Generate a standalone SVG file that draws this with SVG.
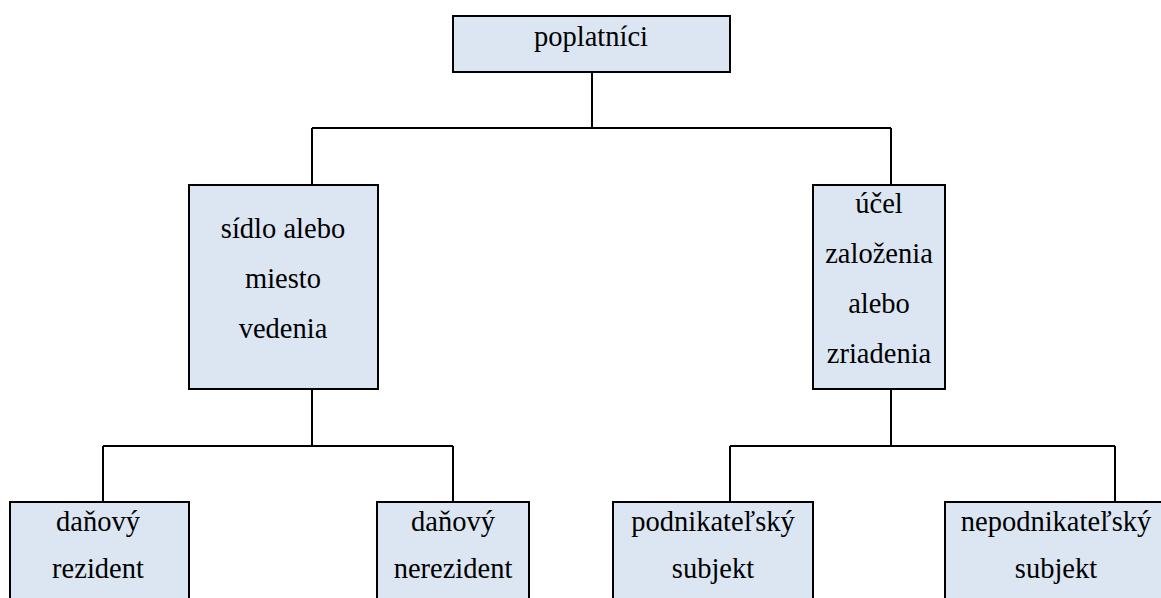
<svg xmlns="http://www.w3.org/2000/svg" width="1161" height="598" viewBox="0 0 1161 598">
<style>
.box{fill:#DCE6F2;stroke:#000;stroke-width:2}
.t{font-size:28.5px;fill:#000;text-anchor:middle}
.c{fill:none;stroke:#000;stroke-width:2}
</style>
<rect width="1161" height="598" fill="#fff"/>
<g id="connectors">
<path class="c" d="M592 72V128M312 128H891M312 128V185M891 128V185"/>
<path class="c" d="M312 389V446M103 446H453M103 446V502M453 446V502"/>
<path class="c" d="M891 389V446M730 446H1115M730 446V502M1115 446V502"/>
</g>
<g font-family="Liberation Serif, DejaVu Serif, serif">
<g id="n-poplatnici">
<rect class="box" x="453" y="16" width="277" height="56"/>
<text class="t" x="591" y="46">poplatníci</text>
</g>
<g id="n-sidlo">
<rect class="box" x="189" y="185" width="189" height="204"/>
<text class="t" x="283" y="238">sídlo alebo</text>
<text class="t" x="283" y="288">miesto</text>
<text class="t" x="283" y="338">vedenia</text>
</g>
<g id="n-ucel">
<rect class="box" x="813" y="185" width="132" height="204"/>
<text class="t" x="879" y="213">účel</text>
<text class="t" x="879" y="263">založenia</text>
<text class="t" x="879" y="313">alebo</text>
<text class="t" x="879" y="363">zriadenia</text>
</g>
<g id="n-rezident">
<rect class="box" x="10" y="502" width="179" height="110"/>
<text class="t" x="98" y="531">daňový</text>
<text class="t" x="98" y="578">rezident</text>
</g>
<g id="n-nerezident">
<rect class="box" x="377" y="502" width="152" height="110"/>
<text class="t" x="453" y="531">daňový</text>
<text class="t" x="453" y="578">nerezident</text>
</g>
<g id="n-podnikatelsky">
<rect class="box" x="613" y="502" width="200" height="110"/>
<text class="t" x="713" y="531">podnikateľský</text>
<text class="t" x="713" y="578">subjekt</text>
</g>
<g id="n-nepodnikatelsky">
<rect class="box" x="945" y="502" width="222" height="110"/>
<text class="t" x="1056" y="531">nepodnikateľský</text>
<text class="t" x="1056" y="578">subjekt</text>
</g>
</g>
</svg>
